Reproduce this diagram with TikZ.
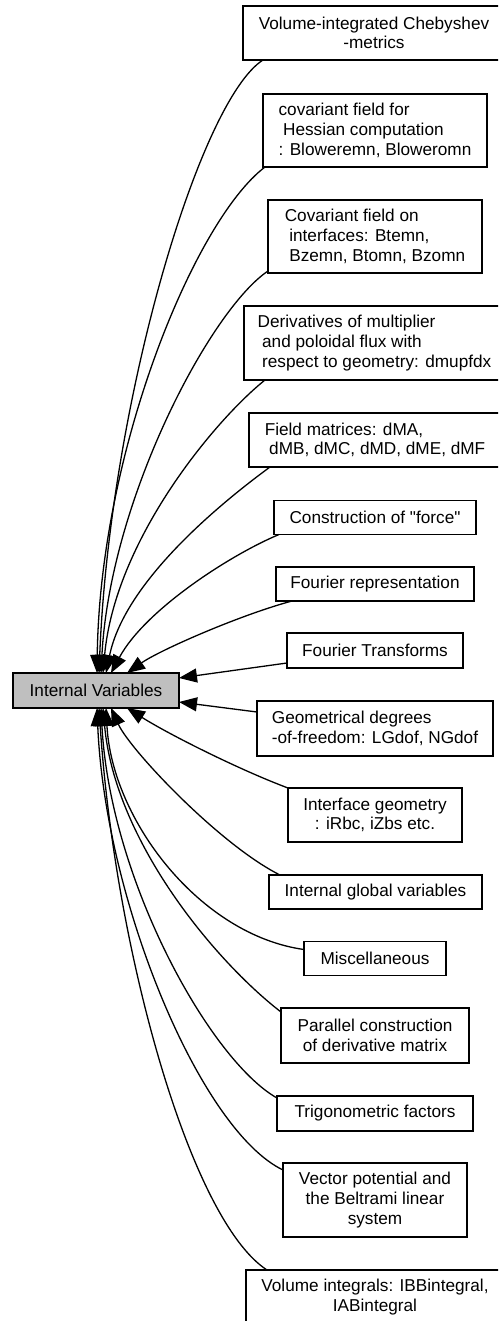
\documentclass[tikz,border=0pt]{standalone}
\usepackage{fontspec}
\setmainfont{Liberation Sans}[Ligatures=TeXOff]
\usetikzlibrary{arrows.meta,calc}
\definecolor{ivgray}{RGB}{191,191,191}
\newcommand{\lsp}{\hspace*{0.26em}}
\begin{document}
\begin{tikzpicture}[x=1pt,y=-1pt,
  box/.style={draw=black,line width=1.4pt,rectangle,inner sep=2pt,outer sep=0pt,
    font=\fontsize{17.2}{19.7}\selectfont,fill=white},
  lbox/.style={box,align=left},
  cbox/.style={box,align=center},
  edge/.style={draw=black,line width=1.3pt,-{Triangle[length=18pt,width=14pt]}}]
\useasboundingbox (0,0) rectangle (498,1321);
\clip (0,0) rectangle (498,1321);
\fill[white] (0,0) rectangle (498,1321);

\node[cbox,minimum width=262pt,minimum height=54pt] (n1) at (374,33) {Volume-integrated Chebyshev\\-metrics};
\node[lbox,minimum width=224pt,minimum height=73pt] (n2) at (375,130.5) {covariant field for\\\lsp Hessian computation\\: Bloweremn, Bloweromn};
\node[lbox,minimum width=214pt,minimum height=73pt] (n3) at (375,236.5) {Covariant field on\\\lsp interfaces: Btemn,\\\lsp Bzemn, Btomn, Bzomn};
\node[lbox,minimum width=261pt,minimum height=74pt] (n4) at (374.5,343) {Derivatives of multiplier\\\lsp and poloidal flux with\\\lsp respect to geometry: dmupfdx};
\node[lbox,minimum width=252pt,minimum height=54pt] (n5) at (375,440) {Field matrices: dMA,\\\lsp dMB, dMC, dMD, dME, dMF};
\node[cbox,minimum width=202pt,minimum height=34pt] (n6) at (375,517.5) {Construction of "force"};
\node[cbox,minimum width=198pt,minimum height=34pt] (n7) at (375,584) {Fourier representation};
\node[cbox,minimum width=176pt,minimum height=35pt] (n8) at (375,650.5) {Fourier Transforms};
\node[cbox,minimum width=166pt,minimum height=35pt,fill=ivgray] (iv) at (96,690.5) {Internal Variables};
\node[lbox,minimum width=236pt,minimum height=55pt] (n10) at (375,728.5) {Geometrical degrees\\-of-freedom: LGdof, NGdof};
\node[cbox,minimum width=174pt,minimum height=54pt] (n11) at (375,815) {Interface geometry\\: iRbc, iZbs etc.};
\node[cbox,minimum width=213pt,minimum height=34pt] (n12) at (375.5,892) {Internal global variables};
\node[cbox,minimum width=142pt,minimum height=34pt] (n13) at (375,958.5) {Miscellaneous};
\node[cbox,minimum width=188pt,minimum height=55pt] (n14) at (375,1035.5) {Parallel construction\\of derivative matrix};
\node[cbox,minimum width=196pt,minimum height=35pt] (n15) at (375,1113.5) {Trigonometric factors};
\node[cbox,minimum width=184pt,minimum height=74pt] (n16) at (375,1200) {Vector potential and\\the Beltrami linear\\system};
\node[cbox,minimum width=258pt,minimum height=54pt] (n17) at (375,1297) {Volume integrals: IBBintegral,\\IABintegral};

\draw[edge] ($(n1.south west)+(20,0)$) .. controls (200,100) and (110,400) .. ($(iv.north west)+(86,0)$);
\draw[edge] ($(n2.south west)+(2,0)$) .. controls (195,220) and (100,450) .. ($(iv.north west)+(84,0)$);
\draw[edge] ($(n3.south west)+(0,-2)$) .. controls (210,310) and (110,500) .. ($(iv.north west)+(88,0)$);
\draw[edge] ($(n4.south west)+(21,0)$) .. controls (215,420) and (115,540) .. ($(iv.north west)+(90,0)$);
\draw[edge] ($(n5.south west)+(21,0)$) .. controls (225,500) and (125,580) .. ($(iv.north west)+(93,0)$);
\draw[edge] ($(n6.south west)+(5,0)$) .. controls (230,555) and (145,610) .. ($(iv.north west)+(98,0)$);
\draw[edge] ($(n7.south west)+(16,0)$) .. controls (240,615) and (160,650) .. ($(iv.north west)+(114,0)$);
\draw[edge] ($(n8.south west)+(0,-5)$) -- ($(iv.north east)+(0,5)$);
\draw[edge] ($(n10.north west)+(0,11)$) -- ($(iv.south east)+(0,-6)$);
\draw[edge] ($(n11.north west)+(0,0)$) .. controls (240,770) and (170,735) .. ($(iv.south west)+(114,0)$);
\draw[edge] ($(n12.north west)+(11,0)$) .. controls (220,845) and (130,750) .. ($(iv.south west)+(98,0)$);
\draw[edge] ($(n13.north west)+(0,8)$) .. controls (200,935) and (112,820) .. ($(iv.south west)+(93,0)$);
\draw[edge] ($(n14.north west)+(0,4)$) .. controls (215,961) and (115,841) .. ($(iv.south west)+(90,0)$);
\draw[edge] ($(n15.north west)+(0,2)$) .. controls (210,1060) and (110,880) .. ($(iv.south west)+(88,0)$);
\draw[edge] ($(n16.north west)+(0,7)$) .. controls (200,1130) and (105,900) .. ($(iv.south west)+(84,0)$);
\draw[edge] ($(n17.north west)+(21,0)$) .. controls (190,1220) and (115,950) .. ($(iv.south west)+(86,0)$);
\end{tikzpicture}
\end{document}
